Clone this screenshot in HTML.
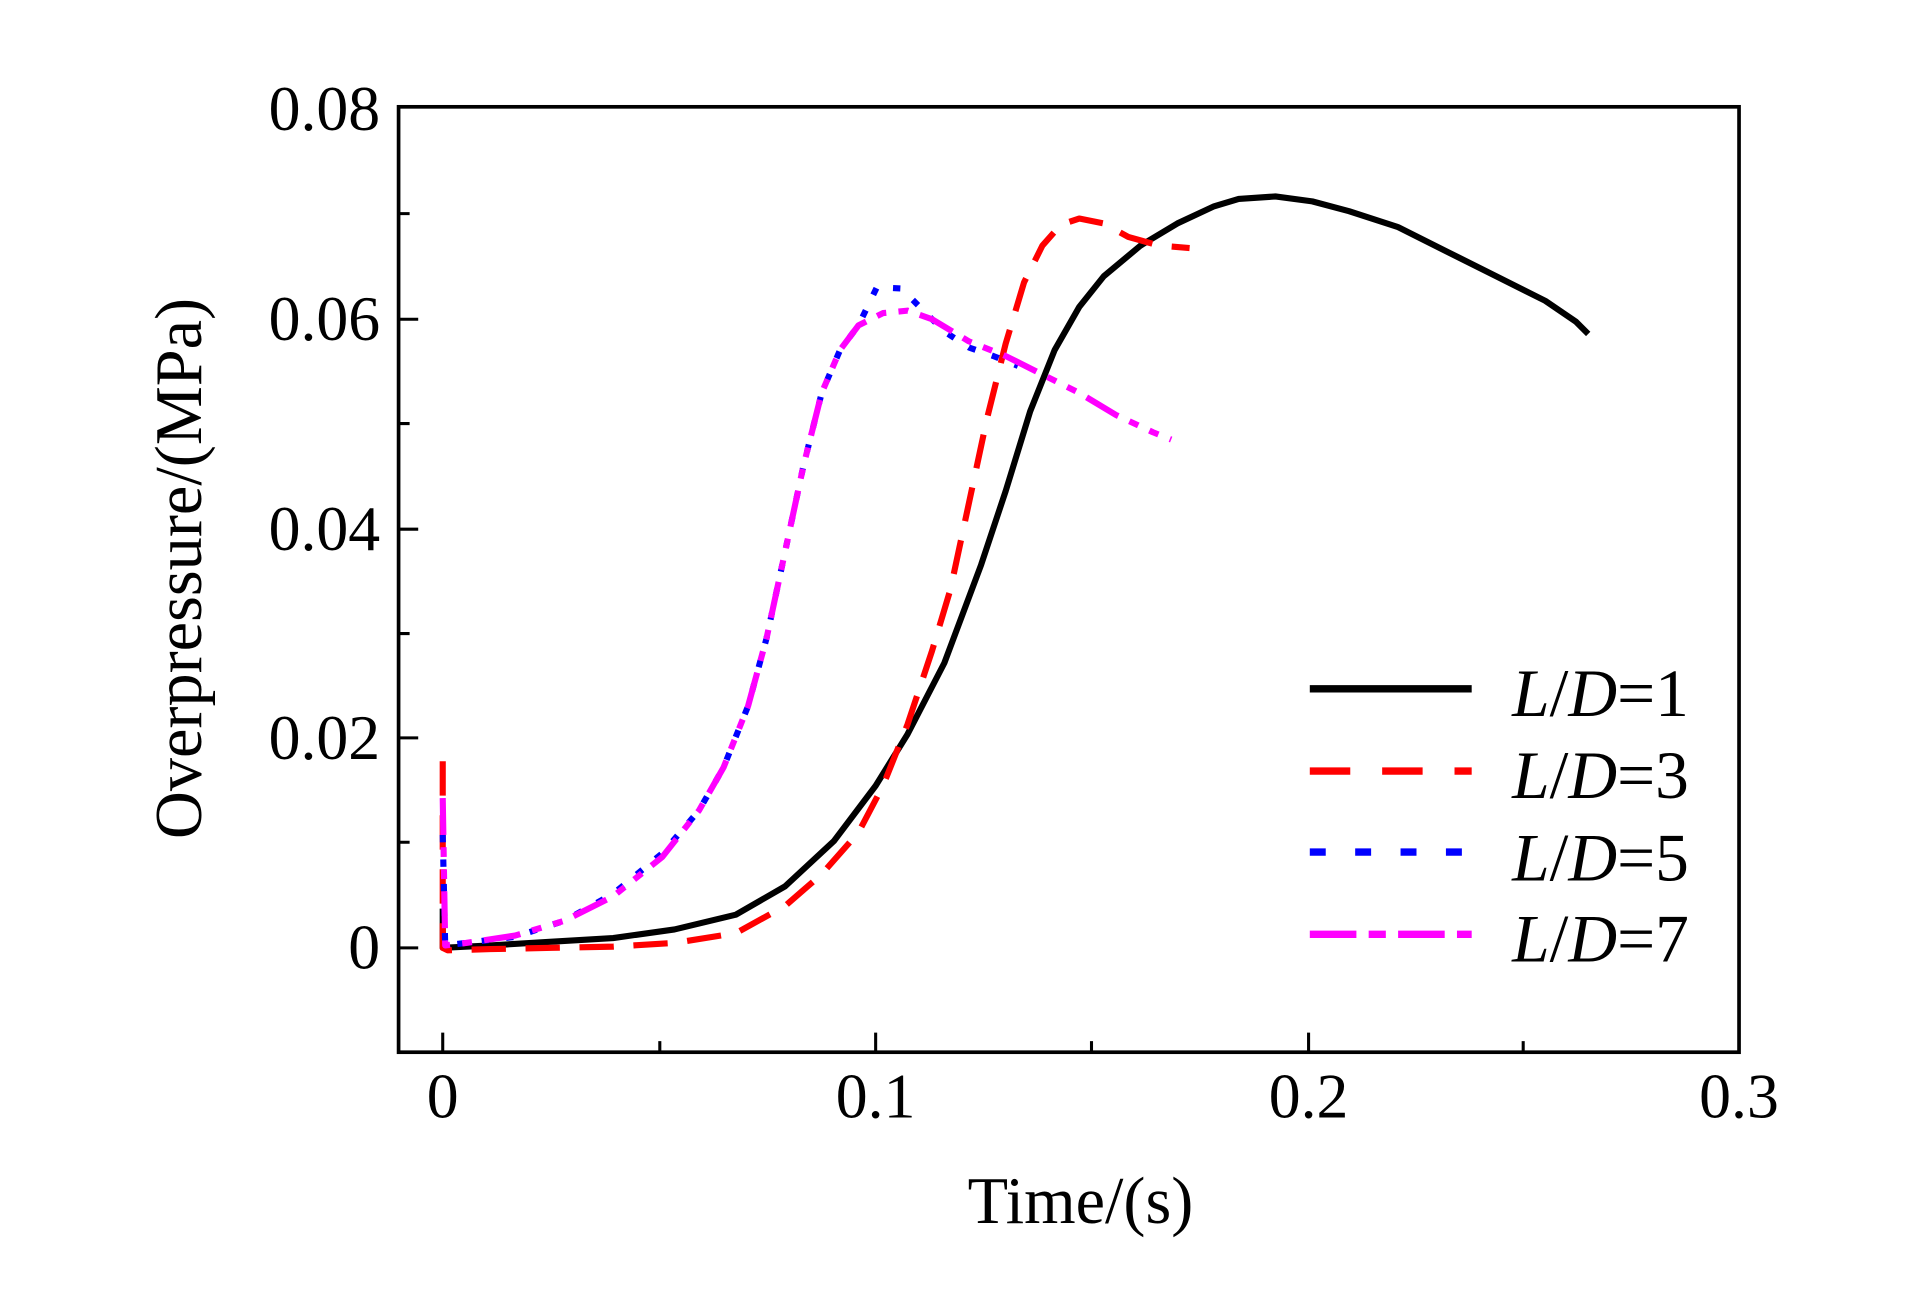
<!DOCTYPE html>
<html><head><style>html,body{margin:0;padding:0;background:#fff}svg{display:block}</style></head>
<body>
<svg width="1923" height="1299" viewBox="0 0 1568 1058" preserveAspectRatio="none" xmlns="http://www.w3.org/2000/svg" font-family="Liberation Serif, serif">
<rect width="1568" height="1058" fill="#fff"/>
<g fill="none" stroke-linejoin="round" stroke-linecap="butt">
<polyline stroke="#000" stroke-width="5" points="361,740 361,772 400,770 450,767 500,764 550,757 600,745 640,722 680,685 714,640 740,598 770,540 800,460 820,400 840,335 860,285 880,250 900,225 930,200 960,182 990,168 1010,162 1040,160 1070,164 1100,172 1140,185 1180,205 1220,225 1260,245 1285,262 1295,272"/>
<polyline stroke="#f00" stroke-width="5" stroke-dasharray="28,16" points="361,620 361,772 365,774 400,773 450,772 500,771 550,768 600,760 640,738 670,712 700,678 720,640 740,590 760,530 775,480 790,410 805,340 820,280 835,230 850,200 865,183 880,178 900,182 920,193 945,200 970,202"/>
<polyline stroke="#00f" stroke-width="5" stroke-dasharray="6,14" points="361,680 363,770 380,768 420,763 460,750 500,728 540,695 570,660 590,625 610,575 625,520 640,450 655,380 670,320 685,285 700,265 715,234 735,235 750,250 770,270 790,283 810,290 830,298"/>
<polyline stroke="#f0f" stroke-width="5" stroke-dasharray="30,10,8,10,8,10" points="361,650 363,770 380,768 420,762 460,750 500,730 540,698 570,660 590,625 610,575 625,520 640,450 655,380 670,320 685,285 700,265 720,255 740,253 760,260 790,278 820,290 850,305 880,320 910,338 940,352 955,358"/>
</g>
<rect x="325" y="87" width="1093" height="770" fill="none" stroke="#000" stroke-width="3"/>
<g stroke="#000" stroke-width="2.5">
<path d="M361,857v-16M714,857v-16M1067,857v-16M538,857v-9M890,857v-9M1242,857v-9"/>
<path d="M325,772h16M325,601h16M325,431h16M325,260h16M325,686h9M325,516h9M325,345h9M325,174h9"/>
</g>
<g font-size="52" text-anchor="end" fill="#000">
<text x="310" y="789">0</text><text x="310" y="618">0.02</text><text x="310" y="448">0.04</text><text x="310" y="277">0.06</text><text x="310" y="106">0.08</text>
</g>
<g font-size="52" text-anchor="middle" fill="#000">
<text x="361" y="910">0</text><text x="714" y="910">0.1</text><text x="1067" y="910">0.2</text><text x="1418" y="910">0.3</text>
</g>
<text x="881" y="996" font-size="54" text-anchor="middle">Time/(s)</text>
<text transform="translate(164,463) rotate(-90)" font-size="54" text-anchor="middle">Overpressure/(MPa)</text>
<g stroke-width="6">
<line x1="1068" y1="561" x2="1200" y2="561" stroke="#000"/>
<line x1="1068" y1="628" x2="1200" y2="628" stroke="#f00" stroke-dasharray="33,26"/>
<line x1="1068" y1="694" x2="1200" y2="694" stroke="#00f" stroke-dasharray="13,24"/>
<line x1="1068" y1="761" x2="1200" y2="761" stroke="#f0f" stroke-dasharray="38,10,14,10"/>
</g>
<g font-size="55" fill="#000">
<text x="1233" y="583"><tspan font-style="italic">L</tspan>/<tspan font-style="italic">D</tspan>=1</text>
<text x="1233" y="650"><tspan font-style="italic">L</tspan>/<tspan font-style="italic">D</tspan>=3</text>
<text x="1233" y="717"><tspan font-style="italic">L</tspan>/<tspan font-style="italic">D</tspan>=5</text>
<text x="1233" y="783"><tspan font-style="italic">L</tspan>/<tspan font-style="italic">D</tspan>=7</text>
</g>
</svg>
</body></html>
